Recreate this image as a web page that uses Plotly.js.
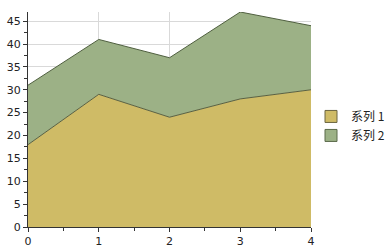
<!DOCTYPE html>
<html><head><meta charset="utf-8">
<script src="https://cdn.plot.ly/plotly-3.0.1.min.js"></script>
<style>html,body{margin:0;padding:0;background:#fff}#c{width:385px;height:252px}</style>
</head><body><div id="c"></div>
<script>
const xValues = [0, 1, 2, 3, 4];
const series1 = [18, 29, 24, 28, 30];
const series2 = [13, 12, 13, 19, 14];
const seriesNames = ['系列 1', '系列 2'];
const fills = ['#CFBB66', '#9CB186'];

const traces = [
  {x: xValues, y: series1, name: seriesNames[0], type: 'scatter', mode: 'lines', stackgroup: 'a',
   fillcolor: fills[0], line: {color: '#5a6040', width: 1}, showlegend: false},
  {x: xValues, y: series2, name: seriesNames[1], type: 'scatter', mode: 'lines', stackgroup: 'a',
   fillcolor: fills[1], line: {color: '#4f5f3f', width: 1}, showlegend: false},
  {x: [null], y: [null], name: seriesNames[0], type: 'scatter', mode: 'markers', legendgroup: 'g1',
   marker: {symbol: 'square', size: 12, color: fills[0], line: {color: '#6b6440', width: 1}}},
  {x: [null], y: [null], name: seriesNames[1], type: 'scatter', mode: 'markers', legendgroup: 'g2',
   marker: {symbol: 'square', size: 12, color: fills[1], line: {color: '#5a6a4a', width: 1}}}
];
const layout = {
  width: 385, height: 252,
  margin: {l: 28, r: 74, t: 12, b: 25, autoexpand: false},
  paper_bgcolor: '#fff', plot_bgcolor: '#fff',
  font: {family: 'DejaVu Sans, Verdana, sans-serif', size: 11, color: '#222'},
  showlegend: true,
  legend: {x: 1.0, y: 0.47, yanchor: 'middle', xanchor: 'left',
    font: {family: '"Noto Sans CJK SC", sans-serif', size: 12, color: '#222'},
    itemwidth: 30, tracegroupgap: 3, traceorder: 'normal'},
  xaxis: {range: [0, 4], dtick: 1, tickmode: 'linear', showgrid: true, gridcolor: '#d9d9d9',
    showline: true, linecolor: '#333', linewidth: 1, ticks: 'outside', ticklen: 4, tickcolor: '#333',
    minor: {dtick: 0.5, ticks: 'outside', ticklen: 3, tickcolor: '#333', showgrid: false},
    zeroline: false, fixedrange: true},
  yaxis: {range: [0, 47], dtick: 5, tickmode: 'linear', showgrid: true, gridcolor: '#d9d9d9',
    showline: true, linecolor: '#333', linewidth: 1, ticks: 'outside', ticklen: 4, tickcolor: '#333',
    minor: {dtick: 2.5, ticks: 'outside', ticklen: 3, tickcolor: '#333', showgrid: false},
    zeroline: false, fixedrange: true}
};
Plotly.newPlot('c', traces, layout, {staticPlot: true, displayModeBar: false});
</script></body></html>
